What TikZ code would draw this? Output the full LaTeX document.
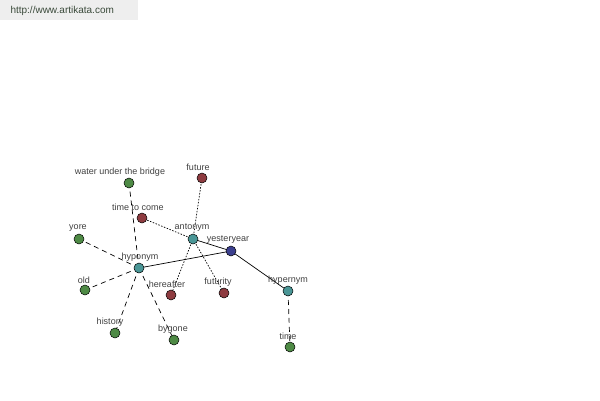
\documentclass[tikz,border=0pt]{standalone}
\usepackage{fontspec}
\setmainfont{Liberation Sans}
\definecolor{wngreen}{HTML}{4E8A45}
\definecolor{wnteal}{HTML}{4A9696}
\definecolor{wnred}{HTML}{8E3B40}
\definecolor{wnblue}{HTML}{3B3F8E}
\definecolor{wnlabel}{HTML}{404040}
\definecolor{wnband}{HTML}{EEEEEE}
\definecolor{wnurl}{HTML}{3A4A3A}

\begin{document}
\begin{tikzpicture}[x=1pt,y=-1pt,
    word/.style={circle,draw=black,line width=0.5pt,minimum size=10pt,inner sep=0pt},
    lbl/.style={font=\fontsize{9}{10}\selectfont,text=wnlabel,inner sep=0pt},
    rel/.style={line width=0.7pt},
    hypo/.style={line width=0.7pt,dash pattern=on 5pt off 4pt},
    anto/.style={line width=0.7pt,dash pattern=on 1.5pt off 1.5pt}]
    \useasboundingbox (0,0) rectangle (600,400);
    \fill[wnband] (0,0) rectangle (138,20);
    \node[anchor=west,font=\fontsize{10}{11}\selectfont,text=wnurl] (url) at (7,11) {http://www.artikata.com};
    % edges first, circles drawn over them
    \coordinate (cwater) at (129,183);
    \coordinate (cfuture) at (202,178);
    \coordinate (ctime2) at (142,218);
    \coordinate (cyore) at (79,239);
    \coordinate (canto) at (193,239);
    \coordinate (cyest) at (231,251);
    \coordinate (chypo) at (139,268);
    \coordinate (cold) at (85,290);
    \coordinate (chere) at (171,295);
    \coordinate (cfutu) at (224,293);
    \coordinate (chyper) at (288,291);
    \coordinate (chist) at (115,333);
    \coordinate (cbyg) at (174,340);
    \coordinate (ctime) at (290,347);
    \draw[rel] (chypo) -- (cyest);
    \draw[rel] (canto) -- (cyest);
    \draw[rel] (cyest) -- (chyper);
    \draw[hypo] (chypo) -- (cwater);
    \draw[hypo] (chypo) -- (cyore);
    \draw[hypo] (chypo) -- (cold);
    \draw[hypo] (chypo) -- (chist);
    \draw[hypo] (chypo) -- (cbyg);
    \draw[hypo] (chyper) -- (ctime);
    \draw[anto] (canto) -- (cfuture);
    \draw[anto] (canto) -- (ctime2);
    \draw[anto] (canto) -- (chere);
    \draw[anto] (canto) -- (cfutu);
    % word nodes
    \node[word,fill=wngreen] (water) at (cwater) {};
    \node[word,fill=wnred] (future) at (cfuture) {};
    \node[word,fill=wnred] (timetocome) at (ctime2) {};
    \node[word,fill=wngreen] (yore) at (cyore) {};
    \node[word,fill=wnteal] (antonym) at (canto) {};
    \node[word,fill=wnblue] (yesteryear) at (cyest) {};
    \node[word,fill=wnteal] (hyponym) at (chypo) {};
    \node[word,fill=wngreen] (old) at (cold) {};
    \node[word,fill=wnred] (hereafter) at (chere) {};
    \node[word,fill=wnred] (futurity) at (cfutu) {};
    \node[word,fill=wnteal] (hypernym) at (chyper) {};
    \node[word,fill=wngreen] (history) at (chist) {};
    \node[word,fill=wngreen] (bygone) at (cbyg) {};
    \node[word,fill=wngreen] (time) at (ctime) {};
    % labels
    \node[lbl] (lwater) at (120,172) {water under the bridge};
    \node[lbl] (lfuture) at (198,167) {future};
    \node[lbl] (ltimetocome) at (138,207) {time to come};
    \node[lbl] (lyore) at (78,228) {yore};
    \node[lbl] (lantonym) at (192,228) {antonym};
    \node[lbl] (lyesteryear) at (228,240) {yesteryear};
    \node[lbl] (lhyponym) at (140,257) {hyponym};
    \node[lbl] (lold) at (84,280) {old};
    \node[lbl] (lhereafter) at (167,284) {hereafter};
    \node[lbl] (lfuturity) at (218,282) {futurity};
    \node[lbl] (lhypernym) at (288,280) {hypernym};
    \node[lbl] (lhistory) at (110,322) {history};
    \node[lbl] (lbygone) at (173,329) {bygone};
    \node[lbl] (ltime) at (288,336) {time};
  \end{tikzpicture}
\end{document}
